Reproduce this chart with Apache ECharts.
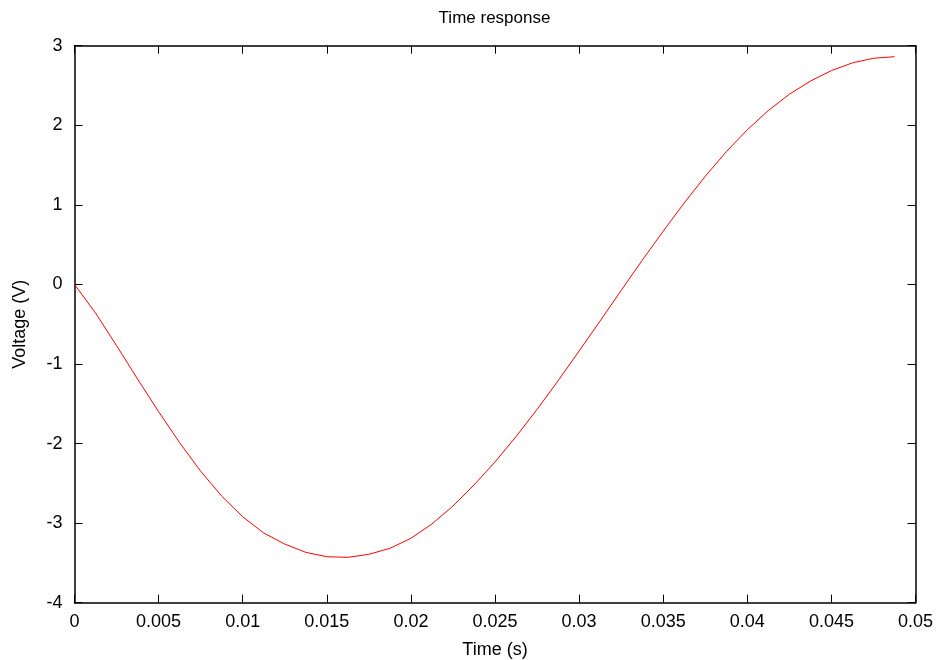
<!DOCTYPE html>
<html>
<head>
<meta charset="utf-8">
<script src="https://cdn.jsdelivr.net/npm/echarts@6/dist/echarts.min.js"></script>
<style>
html,body{margin:0;padding:0;background:#fff;}
#chart{width:938px;height:660px;}
</style>
</head>
<body>
<div id="chart"></div>
<script>
var titleText = "Time response";
var xName = "Time (s)";
var yName = "Voltage (V)";

var timeValues = [0, 0.00125, 0.0025, 0.00375, 0.005, 0.00625, 0.0075, 0.00875, 0.01, 0.01125,
  0.0125, 0.01375, 0.015, 0.01625, 0.0175, 0.01875, 0.02, 0.02125, 0.0225, 0.02375,
  0.025, 0.02625, 0.0275, 0.02875, 0.03, 0.03125, 0.0325, 0.03375, 0.035, 0.03625,
  0.0375, 0.03875, 0.04, 0.04125, 0.0425, 0.04375, 0.045, 0.04625, 0.0475, 0.04875];

var voltageValues = [0, -0.359, -0.769, -1.189, -1.599, -1.989, -2.347, -2.660, -2.920, -3.124,
  -3.263, -3.367, -3.422, -3.430, -3.392, -3.317, -3.191, -3.011, -2.785, -2.521,
  -2.231, -1.913, -1.571, -1.211, -0.837, -0.459, -0.077, 0.303, 0.669, 1.024,
  1.359, 1.667, 1.943, 2.185, 2.390, 2.555, 2.687, 2.784, 2.842, 2.862];

var xTickLabels = ["0", "0.005", "0.01", "0.015", "0.02", "0.025", "0.03", "0.035", "0.04", "0.045", "0.05"];
var yTickLabels = ["-4", "-3", "-2", "-1", "0", "1", "2", "3"];

var points = timeValues.map(function (t, i) { return [t, voltageValues[i]]; });

var FONT = "'Liberation Sans', Arial, Helvetica, sans-serif";
var FS = 18;

var chart = echarts.init(document.getElementById('chart'), null, {renderer: 'canvas'});

function axisLine() { return {show: true, onZero: false, lineStyle: {color: '#000', width: 1.5}}; }
function tickStyle() { return {show: true, inside: true, length: 8, lineStyle: {color: '#000', width: 1}}; }

chart.setOption({
  animation: false,
  backgroundColor: '#fff',
  graphic: [{
    type: 'text', x: 494.5, y: 18,
    style: {
      text: titleText, fontFamily: FONT, fontSize: 17, fill: '#000',
      textAlign: 'center', textVerticalAlign: 'middle'
    }
  }],
  grid: {left: 74.5, right: 22.5, top: 45.7, bottom: 57.3, containLabel: false, outerBoundsMode: 'none'},
  xAxis: [{
    type: 'value', min: 0, max: 0.05, interval: 0.005,
    position: 'bottom',
    name: xName, nameLocation: 'middle', nameGap: 38,
    nameTextStyle: {fontFamily: FONT, fontSize: FS, color: '#000'},
    axisLine: axisLine(), axisTick: tickStyle(),
    axisLabel: {
      fontFamily: FONT, fontSize: FS, color: '#000', margin: 10,
      formatter: function (v) {
        var idx = Math.round(v / 0.005);
        return xTickLabels[idx] !== undefined ? xTickLabels[idx] : '';
      }
    },
    splitLine: {show: false}
  }, {
    type: 'value', min: 0, max: 0.05, interval: 0.005,
    position: 'top',
    axisLine: axisLine(), axisTick: tickStyle(),
    axisLabel: {show: false}, splitLine: {show: false}
  }],
  yAxis: [{
    type: 'value', min: -4, max: 3, interval: 1,
    position: 'left',
    name: yName, nameLocation: 'middle', nameGap: 45, nameRotate: 90,
    nameTextStyle: {fontFamily: FONT, fontSize: FS, color: '#000'},
    axisLine: axisLine(), axisTick: tickStyle(),
    axisLabel: {
      fontFamily: FONT, fontSize: FS, color: '#000', margin: 12,
      formatter: function (v) {
        var idx = Math.round(v + 4);
        return yTickLabels[idx] !== undefined ? yTickLabels[idx] : '';
      }
    },
    splitLine: {show: false}
  }, {
    type: 'value', min: -4, max: 3, interval: 1,
    position: 'right',
    axisLine: axisLine(), axisTick: tickStyle(),
    axisLabel: {show: false}, splitLine: {show: false}
  }],
  series: [{
    type: 'line',
    data: points,
    xAxisIndex: 0, yAxisIndex: 0,
    showSymbol: false,
    smooth: false,
    lineStyle: {color: '#ff0000', width: 1},
    itemStyle: {color: '#ff0000'}
  }]
});
</script>
</body>
</html>
